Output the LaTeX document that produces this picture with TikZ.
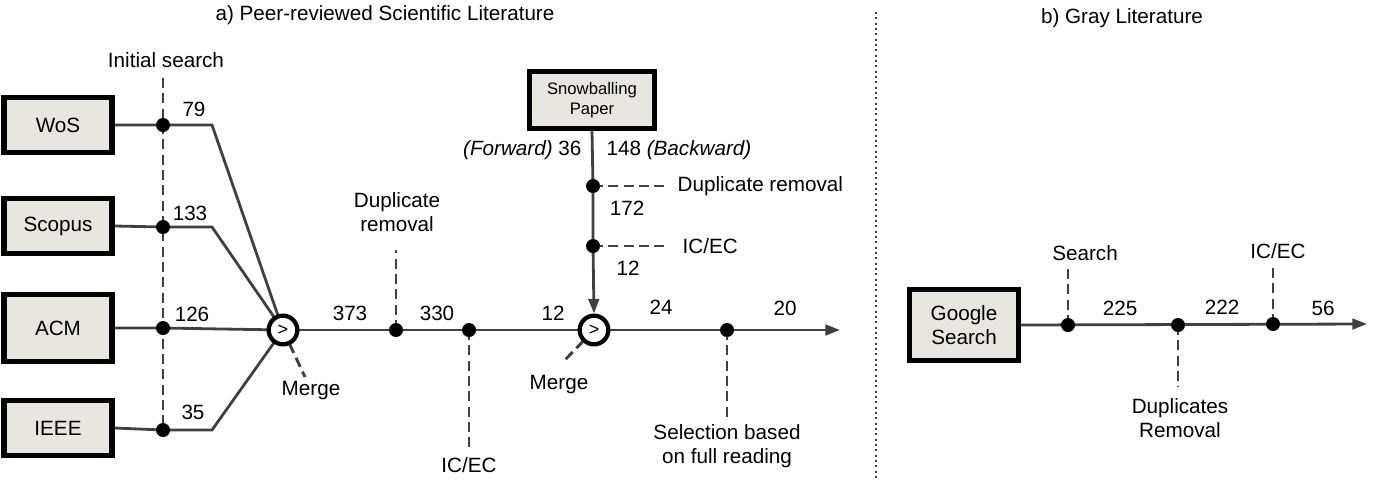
\documentclass[tikz,border=0pt]{standalone}
\usepackage{fontspec}
\setmainfont{Liberation Sans}
\usetikzlibrary{arrows.meta}
\definecolor{boxfill}{HTML}{E9E6DF}
\definecolor{lin}{HTML}{404040}
\pgfdeclarelayer{bg}
\pgfsetlayers{bg,main}
\begin{document}
\begin{tikzpicture}[x=0.75pt,y=-0.75pt,
  every node/.style={font=\fontsize{15.5}{18.5}\selectfont, inner sep=1pt},
  box/.style={draw=black, line width=4pt, fill=boxfill, minimum width=81pt, minimum height=41pt, align=center},
  dot/.style={circle, fill=black, inner sep=0pt, minimum size=10.5pt},
  merge/.style={circle, draw=black, fill=white, line width=3.2pt, inner sep=0pt, minimum size=21.5pt, font=\fontsize{13.5}{15}\selectfont},
  flow/.style={draw=lin, line width=2.1pt},
  dsh/.style={draw=lin, line width=2.2pt, dash pattern=on 7.5pt off 4pt},
  tip/.style={-{Triangle[length=11pt,width=8pt]}},
  lbl/.style={align=center, font=\fontsize{15.5}{18.5}\selectfont}
]
\useasboundingbox (0,0) rectangle (1373,483);

% titles and separator
\node (ta) at (385,15) {a) Peer-reviewed Scientific Literature};
\node (tb) at (1122,18) {b) Gray Literature};
\coordinate (sepT) at (876,12);
\coordinate (sepB) at (876,478);
\draw[lin, line width=1.5pt, dash pattern=on 1.5pt off 2.5pt] (sepT) -- (sepB);

% source boxes
\node[box] (wos) at (58,125) {WoS};
\node[box] (scopus) at (58,226) {Scopus};
\node[box, minimum height=50pt] (acm) at (58,328) {ACM};
\node[box] (ieee) at (58,428) {IEEE};

% dots initial search
\node[dot] (d1) at (163,125) {};
\node[dot] (d2) at (163,227) {};
\node[dot] (d3) at (163,328) {};
\node[dot] (d4) at (163,430) {};
\node (is) at (166,60) {Initial search};
\coordinate (isb) at (163,78);

\coordinate (k1) at (212,125);
\coordinate (k2) at (212,227);
\coordinate (k4) at (212,430);

\node[merge] (m1) at (283,330) {>};
\coordinate (m1e) at (305,377);
\node (mg1) at (311,391) {Merge};

\node (n79) at (194,109) {79};
\node (n133) at (190,213) {133};
\node (n126) at (192,314) {126};
\node (n35) at (193,412) {35};

% main line
\node (n373) at (350,313) {373};
\node[dot] (d5) at (396,330) {};
\coordinate (d5t) at (396,250);
\node[lbl] (dr) at (397,212) {Duplicate\\removal};
\node (n330) at (437,313) {330};
\node[dot] (d6) at (469,330) {};
\coordinate (d6b) at (469,448);
\node (ic1) at (469,465) {IC/EC};
\node (n12a) at (553,313) {12};
\node[merge] (m2) at (594,330) {>};
\coordinate (m2e) at (563,362);
\node (mg2) at (559,385) {Merge};
\node (n24) at (661,307) {24};
\node[dot] (d7) at (727,330) {};
\coordinate (d7b) at (727,418);
\node[lbl] (sel) at (727,446) {Selection based\\on full reading};
\node (n20) at (785,308) {20};
\coordinate (end1) at (840,330);

% snowballing
\node[box, minimum width=94pt, minimum height=42.5pt, font=\fontsize{12.5}{15}\selectfont] (snow) at (592,100) {Snowballing\\Paper};
\node[anchor=east] (fw) at (583,150) {\textit{(Forward)} 36};
\node[anchor=west] (bw) at (605,150) {148 \textit{(Backward)}};
\node[dot] (s1) at (593,186) {};
\coordinate (s1e) at (666,186);
\node[anchor=west] (dr2) at (676,186) {Duplicate removal};
\node (n172) at (627,208) {172};
\node[dot] (s2) at (593,246) {};
\coordinate (s2e) at (666,246);
\node[anchor=west] (ic2) at (681,246) {IC/EC};
\node (n12b) at (628,268) {12};

% gray literature
\node[box, minimum width=81.5pt, minimum height=53pt, align=center] (gs) at (964,325) {Google\\Search};
\node[dot] (g1) at (1068,325) {};
\coordinate (g1t) at (1068,268);
\node (srch) at (1085,253) {Search};
\node (n225) at (1120,308) {225};
\node[dot] (g2) at (1178,325) {};
\coordinate (g2b) at (1178,387);
\node[lbl] (dup) at (1180,418) {Duplicates\\Removal};
\node (n222) at (1222,307) {222};
\node[dot] (g3) at (1273,324) {};
\coordinate (g3t) at (1273,265);
\node (ic3) at (1278,251) {IC/EC};
\node (n56) at (1323,308) {56};
\coordinate (end2) at (1367,324);

\begin{pgfonlayer}{bg}
  \draw[dsh] (isb) -- (d4.center);
  \draw[flow] (wos.east) -- (d1.center) -- (k1) -- (m1.center);
  \draw[flow] (scopus.east) -- (d2.center) -- (k2) -- (m1.center);
  \draw[flow] (acm.east) -- (d3.center) -- (m1.center);
  \draw[flow] (ieee.east) -- (d4.center) -- (k4) -- (m1.center);
  \draw[dsh] (m1.center) -- (m1e);
  \draw[flow] (m1.center) -- (m2.center);
  \draw[flow, tip] (m2.center) -- (end1);
  \draw[dsh] (d5.center) -- (d5t);
  \draw[dsh] (d6.center) -- (d6b);
  \draw[dsh] (d7.center) -- (d7b);
  \draw[dsh] (m2.center) -- (m2e);
  \draw[flow] (snow.south) -- (s1.center) -- (s2.center);
  \draw[dsh] (s1.center) -- (s1e);
  \draw[dsh] (s2.center) -- (s2e);
  \draw[flow, tip] (s2.center) -- (m2.north);
  \draw[flow, tip] (gs.east) -- (end2);
  \draw[dsh] (g1.center) -- (g1t);
  \draw[dsh] (g2.center) -- (g2b);
  \draw[dsh] (g3.center) -- (g3t);
\end{pgfonlayer}
\end{tikzpicture}
\end{document}
